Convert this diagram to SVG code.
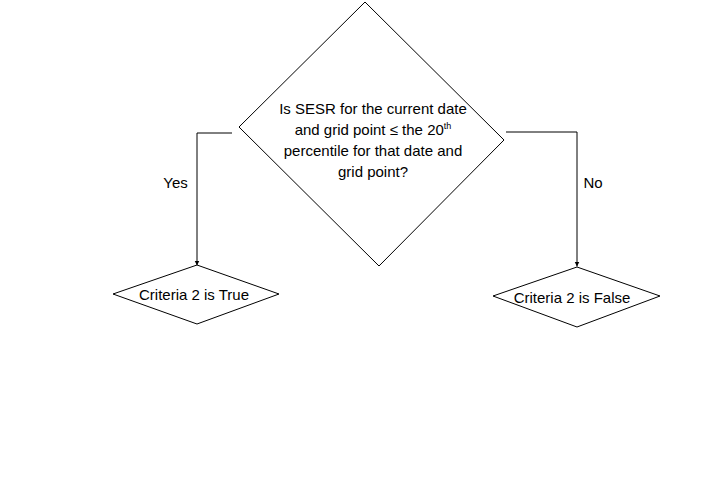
<svg xmlns="http://www.w3.org/2000/svg" width="720" height="480" viewBox="0 0 720 480">
<style>
.shape{fill:#fff;stroke:#000;stroke-width:1}
.t{font-family:"Liberation Sans",Arial,sans-serif;font-size:15px;fill:#000;text-anchor:middle}
.conn{fill:none;stroke:#000;stroke-width:1}
</style>
<defs>
<marker id="arr" markerWidth="6" markerHeight="6" refX="5" refY="3" orient="auto" markerUnits="userSpaceOnUse">
<path d="M0,0.5 L5,3 L0,5.5 Z" fill="#000"/>
</marker>
</defs>
<rect width="720" height="480" fill="#fff"/>
<g id="connectors">
<path class="conn" d="M232,133 H197 V265.5" marker-end="url(#arr)"/>
<path class="conn" d="M506,132 H577 V266.5" marker-end="url(#arr)"/>
<text class="t" x="175.5" y="188">Yes</text>
<text class="t" x="593" y="188">No</text>
</g>
<g id="decision">
<polygon class="shape" points="365,2 504,140 379,266 239,127"/>
<text class="t" x="373" y="114">Is SESR for the current date</text>
<text class="t" x="373" y="135">and grid point ≤ the 20<tspan font-size="9" dy="-6">th</tspan></text>
<text class="t" x="373" y="156">percentile for that date and</text>
<text class="t" x="373" y="177">grid point?</text>
</g>
<g id="true-node">
<polygon class="shape" points="197,265 279,294 197,324 113,294"/>
<text class="t" x="194" y="300">Criteria 2 is True</text>
</g>
<g id="false-node">
<polygon class="shape" points="577,267 660,296 577,327 493,296"/>
<text class="t" x="572" y="303">Criteria 2 is False</text>
</g>
</svg>
